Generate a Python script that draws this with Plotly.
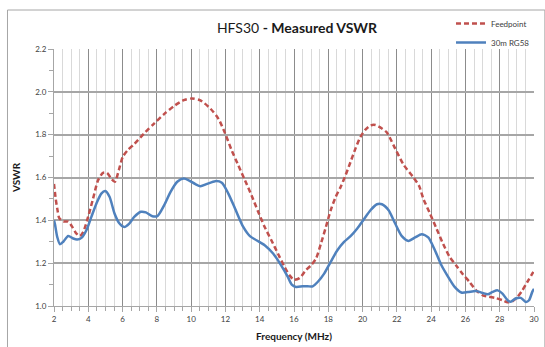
import plotly.graph_objects as go

# Feedpoint (red dashed)
feed_freq = [2.0, 2.1, 2.2, 2.31, 2.54, 2.83, 3.02, 3.31, 3.51, 3.70, 3.99, 4.28, 4.57, 4.86, 5.09,
             5.34, 5.55, 5.78, 6.01, 6.3, 6.68, 7.26, 7.84, 8.42, 8.99, 9.57, 10.05, 10.54, 11.12,
             11.60, 11.98, 12.36, 12.75, 13.14, 13.52, 13.91, 14.29, 14.68, 15.06, 15.45, 15.74,
             15.99, 16.32, 16.70, 16.99, 17.28, 17.57, 17.86, 18.14, 18.43, 18.72, 19.01, 19.30,
             19.59, 19.88, 20.17, 20.46, 20.75, 21.13, 21.42, 21.81, 22.39, 22.97, 23.3, 23.54,
             23.93, 24.31, 24.70, 25.08, 25.47, 25.86, 26.24, 26.62, 27.01, 27.39, 27.78, 28.16,
             28.46, 28.74, 29.03, 29.32, 29.61, 29.90, 30.0]
feed_vswr = [1.57, 1.50, 1.45, 1.41, 1.395, 1.394, 1.375, 1.338, 1.327, 1.345, 1.416, 1.502, 1.587,
             1.622, 1.622, 1.595, 1.58, 1.634, 1.696, 1.728, 1.756, 1.806, 1.852, 1.896, 1.933,
             1.961, 1.969, 1.96, 1.922, 1.873, 1.806, 1.728, 1.657, 1.587, 1.517, 1.44, 1.369,
             1.307, 1.245, 1.182, 1.143, 1.123, 1.13, 1.168, 1.19, 1.221, 1.291, 1.369, 1.447,
             1.509, 1.556, 1.611, 1.673, 1.736, 1.79, 1.824, 1.843, 1.845, 1.829, 1.81, 1.75,
             1.66, 1.60, 1.56, 1.502, 1.432, 1.362, 1.29, 1.229, 1.188, 1.147, 1.112, 1.073,
             1.05, 1.043, 1.037, 1.027, 1.017, 1.022, 1.042, 1.073, 1.112, 1.151, 1.165]

# 30m RG58 (blue solid)
coax_freq = [2.0, 2.06, 2.19, 2.35, 2.54, 2.83, 3.12, 3.35, 3.60, 3.89, 4.18, 4.47, 4.76, 4.99,
             5.24, 5.53, 5.82, 6.10, 6.39, 6.68, 7.07, 7.36, 7.74, 8.03, 8.42, 8.80, 9.19, 9.57,
             9.86, 10.25, 10.54, 10.93, 11.40, 11.79, 12.17, 12.56, 13.04, 13.43, 13.81, 14.29,
             14.78, 15.25, 15.64, 15.87, 16.12, 16.51, 16.80, 17.09, 17.38, 17.76, 18.14, 18.53,
             18.92, 19.30, 19.69, 20.07, 20.46, 20.84, 21.13, 21.52, 21.90, 22.29, 22.68, 23.06,
             23.45, 23.83, 24.22, 24.60, 24.99, 25.37, 25.76, 26.14, 26.62, 27.01, 27.30, 27.59,
             27.88, 28.16, 28.46, 28.64, 28.93, 29.23, 29.52, 29.71, 29.90, 30.0]
coax_vswr = [1.40, 1.38, 1.322, 1.288, 1.30, 1.327, 1.315, 1.31, 1.318, 1.354, 1.416, 1.478, 1.525,
             1.537, 1.51, 1.432, 1.385, 1.369, 1.385, 1.416, 1.44, 1.437, 1.419, 1.42, 1.47, 1.533,
             1.58, 1.595, 1.587, 1.569, 1.559, 1.57, 1.583, 1.576, 1.525, 1.455, 1.369, 1.326,
             1.307, 1.284, 1.245, 1.19, 1.136, 1.10, 1.089, 1.092, 1.092, 1.092, 1.112, 1.151,
             1.206, 1.26, 1.299, 1.326, 1.362, 1.404, 1.447, 1.475, 1.475, 1.447, 1.385, 1.326,
             1.304, 1.32, 1.335, 1.32, 1.26, 1.19, 1.136, 1.089, 1.063, 1.065, 1.07, 1.061, 1.055,
             1.066, 1.073, 1.058, 1.027, 1.02, 1.035, 1.038, 1.019, 1.027, 1.066, 1.08]

x_ticks = list(range(2, 31, 2))
y_ticks = [1.0, 1.2, 1.4, 1.6, 1.8, 2.0, 2.2]

FONT = "Lato, 'Open Sans', sans-serif"
W, H = 545, 347
L, R, T, B = 54, 6, 49, 41
pw, ph = W - L - R, H - T - B

fig = go.Figure()
fig.add_trace(go.Scatter(x=feed_freq, y=feed_vswr, name="Feedpoint", mode="lines",
                         line=dict(color="#C0504D", width=2.5, dash="5px,3px", shape="spline", smoothing=0.7),
                         legendgroup="a"))
fig.add_trace(go.Scatter(x=coax_freq, y=coax_vswr, name="30m RG58", mode="lines",
                         line=dict(color="#4F81BD", width=2.5, shape="spline", smoothing=0.7),
                         legendgroup="b"))

# outer chart border
fig.add_shape(type="rect", xref="paper", yref="paper",
              x0=(7 - L) / pw, x1=(W + 5 - L) / pw,
              y0=-(B + 5) / ph, y1=(ph + T - 10) / ph,
              line=dict(color="#A6A6A6", width=1), layer="below")

fig.update_layout(
    width=W, height=H,
    margin=dict(l=L, r=R, t=T, b=B),
    paper_bgcolor="white", plot_bgcolor="white",
    font=dict(family=FONT, color="#404040", size=8),
    title=dict(text="HFS30 <b>- Measured VSWR</b>", x=297 / W, xanchor="center",
               y=1 - 28 / H, yanchor="middle",
               font=dict(family=FONT, size=14, color="#1a1a1a")),
    legend=dict(x=(540 - L) / pw, y=(ph + T - 9) / ph, xanchor="right", yanchor="top",
                font=dict(family=FONT, size=8, color="#404040"), bgcolor="rgba(0,0,0,0)",
                itemwidth=30, tracegroupgap=0, traceorder="grouped"),
    xaxis=dict(range=[2, 30], tickvals=x_ticks, ticktext=[str(v) for v in x_ticks],
               showgrid=True, gridcolor="#8C8C8C", gridwidth=1,
               minor=dict(dtick=0.5, tick0=2, showgrid=True, gridcolor="#D9D9D9", gridwidth=1,
                          ticks="outside", ticklen=4, tickcolor="#A6A6A6"),
               showline=True, linecolor="#A6A6A6", linewidth=1, mirror=False,
               ticks="outside", ticklen=5, tickcolor="#A6A6A6",
               zeroline=False, tickfont=dict(size=8, color="#404040"),
               title=dict(text="<b>Frequency (MHz)</b>", standoff=10,
                          font=dict(size=10, color="#1a1a1a"))),
    yaxis=dict(range=[1.0, 2.2], tickvals=y_ticks, ticktext=[f"{v:.1f}" for v in y_ticks],
               showgrid=True, gridcolor="#A6A6A6", gridwidth=1.5,
               minor=dict(dtick=0.1, tick0=1.0, showgrid=False, ticks="outside", ticklen=4,
                          tickcolor="#A6A6A6"),
               showline=True, linecolor="#A6A6A6", linewidth=1,
               ticks="outside", ticklen=5, tickcolor="#A6A6A6",
               zeroline=False, tickfont=dict(size=8, color="#404040"),
               title=dict(text="<b>VSWR</b>", standoff=12,
                          font=dict(size=10, color="#1a1a1a"))),
)

fig.write_html("out.html")
